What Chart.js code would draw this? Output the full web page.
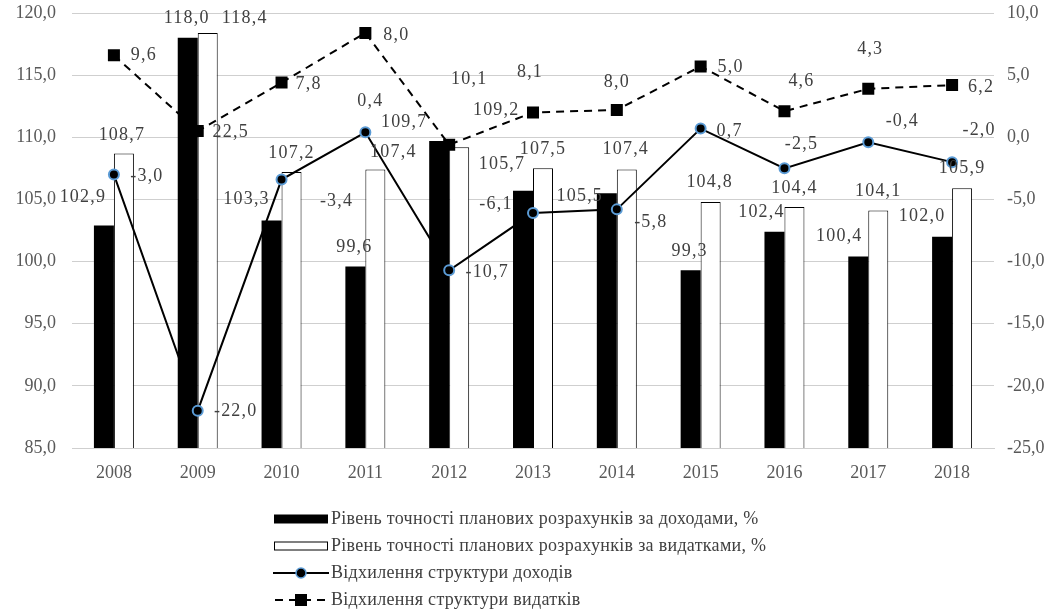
<!DOCTYPE html>
<html>
<head>
<meta charset="utf-8">
<script src="https://cdn.jsdelivr.net/npm/chart.js@4.4.1/dist/chart.umd.min.js"></script>
<style>
  body { margin: 0; background: #fff; }
  #wrap { position: relative; width: 1061px; height: 612px; }
  #chart { position: absolute; left: 0; top: 0; }
  #legend {
    position: absolute; left: 273px; top: 505px;
    font-family: "Liberation Serif", "Times New Roman", serif; font-size: 18px; color: #404040;
    letter-spacing: 0.3px;
  }
  .row { height: 27px; display: flex; align-items: center; white-space: nowrap; }
  .row svg { margin-right: 2px; flex: none; }
</style>
</head>
<body>
<div id="wrap">
  <canvas id="chart" width="1061" height="612"></canvas>
  <div id="legend"></div>
</div>
<script>
const years = ['2008', '2009', '2010', '2011', '2012', '2013', '2014', '2015', '2016', '2017', '2018'];
const incomeAccuracy = [102.9, 118.0, 103.3, 99.6, 109.7, 105.7, 105.5, 99.3, 102.4, 100.4, 102.0];
const expenseAccuracy = [108.7, 118.4, 107.2, 107.4, 109.2, 107.5, 107.4, 104.8, 104.4, 104.1, 105.9];
const incomeDeviation = [-3.0, -22.0, -3.4, 0.4, -10.7, -6.1, -5.8, 0.7, -2.5, -0.4, -2.0];
// points as drawn in the picture; the printed labels differ from them
const expenseDeviation = [6.6, 0.5, 4.4, 8.4, -0.6, 2.0, 2.2, 5.7, 2.1, 3.9, 4.2];
const expenseDeviationText = ['9,6', '22,5', '7,8', '8,0', '10,1', '8,1', '8,0', '5,0', '4,6', '4,3', '6,2'];

const seriesNames = [
  'Рівень точності планових розрахунків за доходами, %',
  'Рівень точності планових розрахунків за видатками, %',
  'Відхилення структури доходів',
  'Відхилення структури видатків'
];

const fmt = v => v.toFixed(1).replace('.', ',');
const SERIF = '"Liberation Serif", "Times New Roman", serif';
const GRID = '#cfcfcf';

// where each value label sits, relative to its bar top or marker
const labelShift = {
  income: [[-21,-28],[-1,-20],[-25,-21],[-1,-19],[-35,-19],[-21,-26],[-27,3],[-1,-19],[-13,-19],[-19,-20],[-20,-20]],
  expense: [[-2,-18],[37,-15],[0,-19],[18,-17],[37,-37],[0,-19],[-1,-20],[-1,-20],[0,-19],[0,-19],[0,-20]],
  incomeDev: [[33,2],[38,1],[55,22],[5,-31],[38,2],[-37,-9],[34,13],[29,3],[17,-24],[34,-21],[27,-32]],
  expenseDev: [[30,0],[33,1],[27,2],[31,2],[20,-65],[-3,-40],[0,-28],[30,1],[17,-30],[2,-40],[29,2]]
};

const valueLabels = {
  id: 'valueLabels',
  afterDatasetsDraw(chart) {
    const ctx = chart.ctx;
    ctx.save();
    ctx.letterSpacing = '1.2px';
    ctx.font = '18px ' + SERIF;
    ctx.fillStyle = '#404040';
    ctx.textAlign = 'center';
    ctx.textBaseline = 'middle';
    chart.data.datasets.forEach((ds, i) => {
      chart.getDatasetMeta(i).data.forEach((el, j) => {
        const [dx, dy] = ds.labelShift[j];
        ctx.fillText(ds.labelText[j], el.x + dx, el.y + dy);
      });
    });
    ctx.restore();
  }
};

// fixed axis boxes so the plot area lands where the reference has it
const fixY = w => s => { s.width = w; s.paddingTop = 0; s.paddingBottom = 0; };

new Chart(document.getElementById('chart'), {
  type: 'bar',
  data: {
    labels: years,
    datasets: [
      {
        label: seriesNames[0],
        data: incomeAccuracy,
        backgroundColor: '#000',
        yAxisID: 'y',
        order: 2,
        categoryPercentage: 0.477,
        barPercentage: 1,
        labelText: incomeAccuracy.map(fmt),
        labelShift: labelShift.income
      },
      {
        label: seriesNames[1],
        data: expenseAccuracy,
        backgroundColor: '#fff',
        borderColor: '#000',
        borderWidth: 1,
        borderSkipped: 'bottom',
        yAxisID: 'y',
        order: 2,
        categoryPercentage: 0.477,
        barPercentage: 1,
        labelText: expenseAccuracy.map(fmt),
        labelShift: labelShift.expense
      },
      {
        type: 'line',
        label: seriesNames[2],
        data: incomeDeviation,
        yAxisID: 'y1',
        order: 0,
        borderColor: '#000',
        borderWidth: 2,
        tension: 0,
        pointStyle: 'circle',
        pointRadius: 5,
        pointBorderWidth: 2,
        pointBackgroundColor: '#000',
        pointBorderColor: '#5b9bd5',
        labelText: incomeDeviation.map(fmt),
        labelShift: labelShift.incomeDev
      },
      {
        type: 'line',
        label: seriesNames[3],
        data: expenseDeviation,
        yAxisID: 'y1',
        order: 1,
        borderColor: '#000',
        borderWidth: 2,
        borderDash: [8, 6],
        tension: 0,
        pointStyle: 'rect',
        pointRadius: 8.5,
        pointBorderWidth: 0,
        pointBackgroundColor: '#000',
        pointBorderColor: '#000',
        labelText: expenseDeviationText,
        labelShift: labelShift.expenseDev
      }
    ]
  },
  options: {
    responsive: false,
    animation: false,
    layout: { padding: { top: 13, left: 0, right: 0, bottom: 0 } },
    plugins: {
      legend: { display: false },
      tooltip: { enabled: false }
    },
    scales: {
      x: {
        grid: { display: false },
        border: { display: true, color: GRID, width: 1 },
        ticks: { color: '#595959', font: { family: SERIF, size: 18 }, padding: 6 },
        afterFit: s => { s.height = 612 - 448; }
      },
      y: {
        position: 'left',
        min: 85, max: 120,
        ticks: { stepSize: 5, color: '#595959', font: { family: SERIF, size: 18 }, padding: 16, callback: v => fmt(v) },
        grid: { display: true, color: GRID, lineWidth: 1, drawTicks: false },
        border: { display: false },
        afterFit: fixY(72)
      },
      y1: {
        position: 'right',
        min: -25, max: 10,
        ticks: { stepSize: 5, color: '#595959', font: { family: SERIF, size: 18 }, padding: 13, callback: v => fmt(v) },
        grid: { display: false, drawTicks: false },
        border: { display: false },
        afterFit: fixY(1061 - 994)
      }
    }
  },
  plugins: [valueLabels]
});

// legend: one row per series, symbol drawn as svg
const symbols = [
  '<svg width="56" height="14"><rect x="1" y="2.5" width="54" height="9" fill="#000"/></svg>',
  '<svg width="56" height="14"><rect x="1.5" y="3" width="53" height="8" fill="#fff" stroke="#000" stroke-width="1"/></svg>',
  '<svg width="56" height="14"><line x1="0" y1="7" x2="56" y2="7" stroke="#000" stroke-width="2"/><circle cx="28" cy="7" r="5" fill="#000" stroke="#5b9bd5" stroke-width="1.5"/></svg>',
  '<svg width="56" height="14"><line x1="0" y1="7" x2="56" y2="7" stroke="#000" stroke-width="2" stroke-dasharray="8 6" stroke-dashoffset="-2"/><rect x="22" y="1" width="12" height="12" fill="#000"/></svg>'
];
document.getElementById('legend').innerHTML = seriesNames
  .map((name, i) => '<div class="row">' + symbols[i] + '<span>' + name + '</span></div>')
  .join('');
</script>
</body>
</html>
